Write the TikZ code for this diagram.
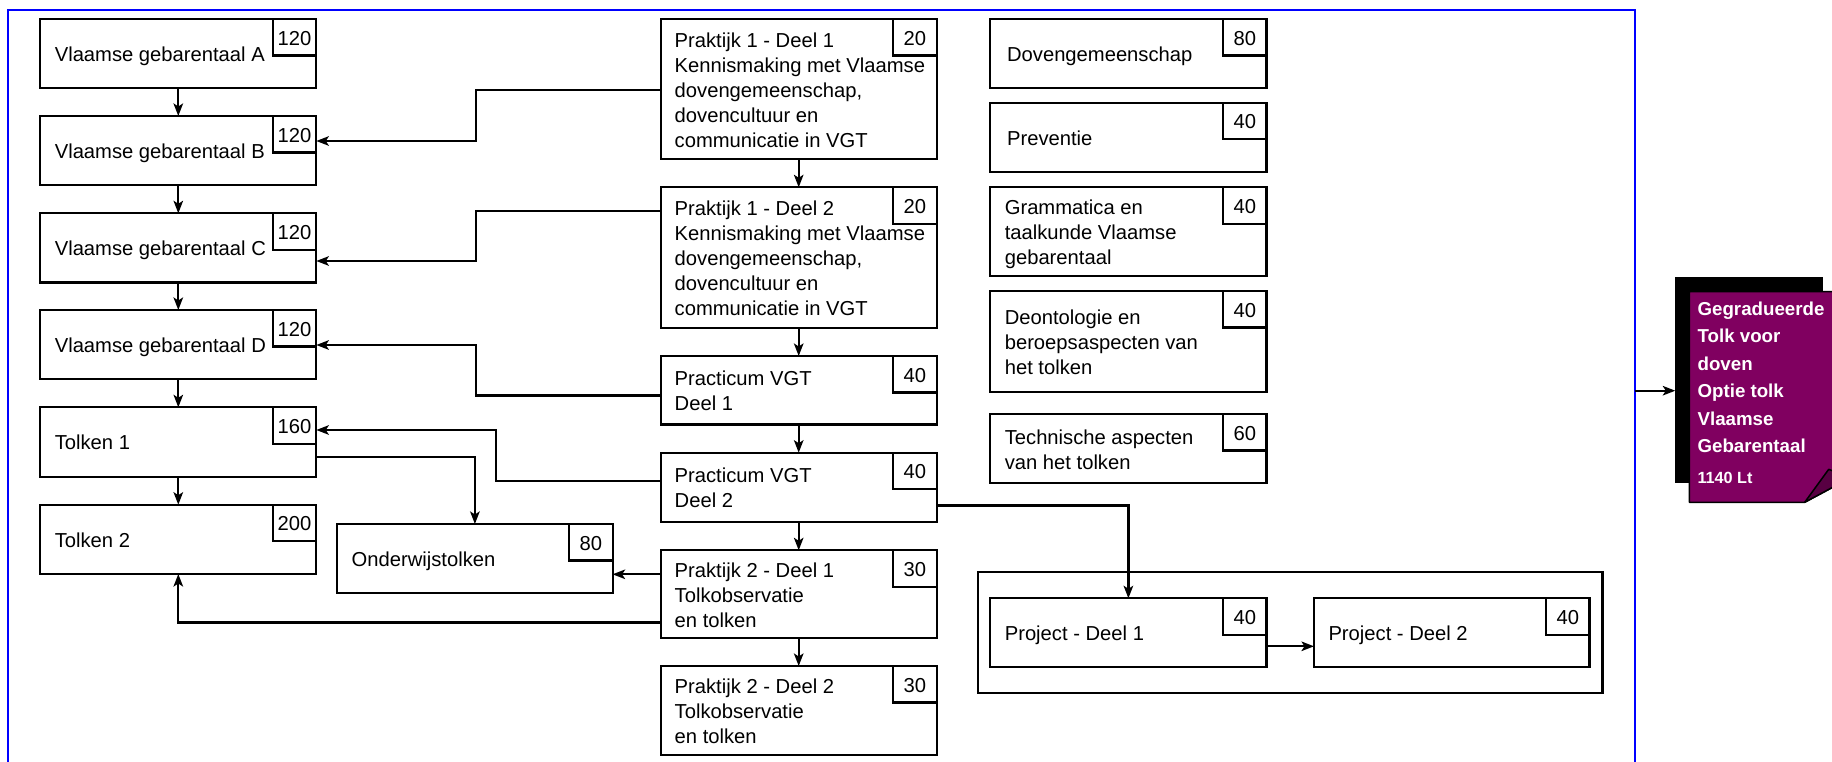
\documentclass[tikz,border=0pt]{standalone}
\usepackage{fontspec}
\setmainfont{Liberation Sans}
\usetikzlibrary{arrows.meta,calc}
\definecolor{sheetpurple}{RGB}{128,0,96}
\definecolor{flappurple}{RGB}{88,0,66}
\newcommand\lstr{\rule[-4.5pt]{0pt}{25pt}}
\newcommand\sstr{\rule[-5pt]{0pt}{22pt}}
\newcommand\course[8]{%
  \node[boxst,minimum width=#4pt,minimum height=#5pt] (#1) at (#2,#3) {};
  \node[numst] (#1-n) at (#1.north east) {\lstr#6};
  \node[txtst] (#1-t) at ([xshift=#7pt]#1.west) {#8};
}
\begin{document}
\begin{tikzpicture}[x=1pt,y=-1pt,
  boxst/.style={draw,line width=2.2pt,rectangle,inner sep=0pt,outer sep=0pt,anchor=north west},
  numst/.style={draw,line width=2.2pt,rectangle,inner sep=0pt,outer sep=0pt,minimum width=43.5pt,minimum height=36.5pt,anchor=north east,font=\fontsize{20.2pt}{25pt}\selectfont},
  txtst/.style={inner sep=0pt,outer sep=0pt,anchor=west,align=left,font=\fontsize{20.2pt}{25pt}\selectfont},
  conn/.style={line width=2.2pt,-{Stealth[length=12.5pt,width=9.5pt,inset=3pt]}},
]
\useasboundingbox (0,0) rectangle (1832,762);
\clip (0,0) rectangle (1832,762);

% outer blue frame
\node[draw=blue,line width=2pt,inner sep=0pt,outer sep=0pt,minimum width=1627pt,minimum height=761.4pt,anchor=north west] (frame) at (7.5,10) {};

% left column
\course{va}{40.3}{19}{276}{69.3}{120}{14.5}{\lstr Vlaamse gebarentaal A}
\course{vb}{40.3}{116}{276}{69.3}{120}{14.5}{\lstr Vlaamse gebarentaal B}
\course{vc}{40.3}{213.3}{276}{69.3}{120}{14.5}{\lstr Vlaamse gebarentaal C}
\course{vd}{40.3}{310}{276}{69.3}{120}{14.5}{\lstr Vlaamse gebarentaal D}
\course{t1}{40.3}{407.3}{276}{69.3}{160}{14.5}{\lstr Tolken 1}
\course{t2}{40.3}{504.7}{276}{69.3}{200}{14.5}{\lstr Tolken 2}
\course{ond}{337.2}{524}{275.4}{68.7}{80}{14.5}{\lstr Onderwijstolken}

% middle column
\course{p11}{660.7}{19}{276}{140.3}{20}{14}{\lstr Praktijk 1 - Deel 1\\\lstr Kennismaking met Vlaamse\\\lstr dovengemeenschap,\\\lstr dovencultuur en\\\lstr communicatie in VGT}
\course{p12}{660.7}{187.3}{276}{140.4}{20}{14}{\lstr Praktijk 1 - Deel 2\\\lstr Kennismaking met Vlaamse\\\lstr dovengemeenschap,\\\lstr dovencultuur en\\\lstr communicatie in VGT}
\course{pr1}{660.7}{356}{276}{68.5}{40}{14}{\lstr Practicum VGT\\\lstr Deel 1}
\course{pr2}{660.7}{452.7}{276}{69.3}{40}{14}{\lstr Practicum VGT\\\lstr Deel 2}
\course{p21}{660.7}{550.3}{276}{87.7}{30}{14}{\lstr Praktijk 2 - Deel 1\\\lstr Tolkobservatie\\\lstr en tolken}
\course{p22}{660.7}{666}{276}{88.7}{30}{14}{\lstr Praktijk 2 - Deel 2\\\lstr Tolkobservatie\\\lstr en tolken}

% right column
\course{dov}{990.3}{19}{276.2}{69.3}{80}{16.8}{\lstr Dovengemeenschap}
\course{prev}{990.3}{102.7}{276.2}{69.6}{40}{16.8}{\lstr Preventie}
\course{gram}{990.3}{187.3}{276.2}{88.7}{40}{14.5}{\lstr Grammatica en\\\lstr taalkunde Vlaamse\\\lstr gebarentaal}
\course{deon}{990.3}{291}{276.2}{100.7}{40}{14.5}{\lstr Deontologie en\\\lstr beroepsaspecten van\\\lstr het tolken}
\course{tech}{990.3}{414}{276.2}{69}{60}{14.5}{\lstr Technische aspecten\\\lstr van het tolken}

% project group
\node[boxst,minimum width=624.9pt,minimum height=121pt] (projgrp) at (977.6,572.3) {};
\course{proj1}{990.3}{598.3}{276.2}{69}{40}{14.5}{\lstr Project - Deel 1}
\course{proj2}{1314}{598.3}{275.5}{69}{40}{14.5}{\lstr Project - Deel 2}

% result sheet
\node[fill=black,inner sep=0pt,outer sep=0pt,minimum width=147.4pt,minimum height=206pt,anchor=north west] (shadow) at (1675.3,277.3) {};
\filldraw[fill=sheetpurple,draw=black,line width=1.5pt,line join=round] (1689.3,291.7) -- (1850,291.7) -- (1850,478) -- (1804.7,502.3) -- (1689.3,502.3) -- cycle;
\filldraw[fill=flappurple,draw=black,line width=1.5pt,line join=round] (1804.7,502.3) -- (1828.7,469.3) -- (1850,478) -- cycle;
\node[anchor=north west,inner sep=0pt,outer sep=0pt,align=left,text=white,font=\bfseries\fontsize{18.7pt}{27.5pt}\selectfont] (sheettxt) at (1697.6,298) {\sstr Gegradueerde\\\sstr Tolk voor\\\sstr doven\\\sstr Optie tolk\\\sstr Vlaamse\\\sstr Gebarentaal\\[3.1pt]\sstr{\fontsize{16.2pt}{20pt}\selectfont 1140 Lt}};

% helper coordinates for bends
\coordinate (k1) at (475.8,90);
\coordinate (k2) at (475.8,141);
\coordinate (k3) at (475.8,211);
\coordinate (k4) at (475.8,261);
\coordinate (k5) at (475.8,395.5);
\coordinate (k6) at (475.8,345);
\coordinate (k7) at (495.7,480.7);
\coordinate (k8) at (495.7,430);
\coordinate (k9) at (475,456.7);
\coordinate (k10) at (0,574.3);
\coordinate (k11) at (0,622.5);
\coordinate (k12) at (0,505.5);
\coordinate (k13) at (0,646.3);

% vertical chains
\draw[conn] (va.south) -- (vb.north);
\draw[conn] (vb.south) -- (vc.north);
\draw[conn] (vc.south) -- (vd.north);
\draw[conn] (vd.south) -- (t1.north);
\draw[conn] (t1.south) -- (t2.north);
\draw[conn] (p11.south) -- (p12.north);
\draw[conn] (p12.south) -- (pr1.north);
\draw[conn] (pr1.south) -- (pr2.north);
\draw[conn] (pr2.south) -- (p21.north);
\draw[conn] (p21.south) -- (p22.north);

% elbow connectors
\draw[conn] (p11.west |- k1) -- (k1) -- (k2) -- (vb.east |- k2);
\draw[conn] (p12.west |- k3) -- (k3) -- (k4) -- (vc.east |- k4);
\draw[conn] (pr1.west |- k5) -- (k5) -- (k6) -- (vd.east |- k6);
\draw[conn] (pr2.west |- k7) -- (k7) -- (k8) -- (t1.east |- k8);
\draw[conn] (t1.east |- k9) -- (ond.north |- k9) -- (ond.north);
\draw[conn] (p21.west |- k10) -- (ond.east |- k10);
\draw[conn] (p21.west |- k11) -- (t2.south |- k11) -- (t2.south);
\draw[conn] (pr2.east |- k12) -- (proj1.north |- k12) -- (proj1.north);
\draw[conn] (proj1.east |- k13) -- (proj2.west |- k13);
\draw[conn] (frame.east) -- (frame.east -| shadow.west);
\end{tikzpicture}
\end{document}
